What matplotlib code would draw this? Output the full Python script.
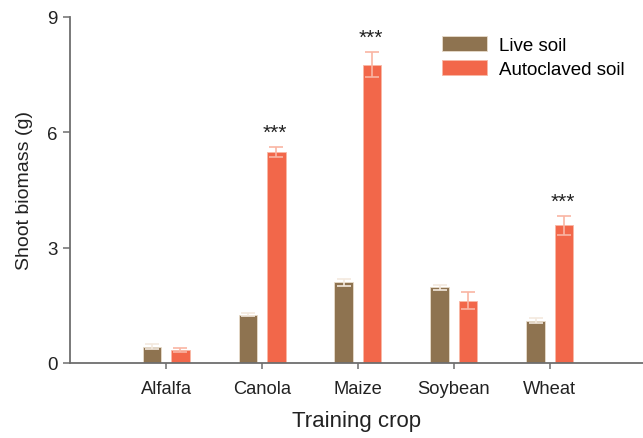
import matplotlib
matplotlib.use("Agg")
import matplotlib.pyplot as plt
import numpy as np

plt.rcParams['font.family'] = ['Liberation Sans', 'DejaVu Sans']

crops = ["Alfalfa", "Canola", "Maize", "Soybean", "Wheat"]
live_mean = [0.42, 1.26, 2.10, 1.97, 1.10]
live_err = [0.06, 0.05, 0.09, 0.06, 0.07]
auto_mean = [0.34, 5.48, 7.76, 1.62, 3.58]
auto_err = [0.06, 0.13, 0.33, 0.22, 0.25]
signif = ["", "***", "***", "", "***"]
yticks = [0, 3, 6, 9]

live_color = "#8E7350"
auto_color = "#F2674A"
spine_color = "#6E6E6E"

fig = plt.figure(figsize=(6.43, 4.39), dpi=100)
ax = fig.add_axes([0.109, 0.171, 0.891, 0.788])

x = np.arange(len(crops))
w = 0.19
off = 0.15

ax.bar(x - off, live_mean, w, color=live_color, edgecolor="#E8DCCB",
       linewidth=0.6, label="Live soil", zorder=2)
ax.bar(x + off, auto_mean, w, color=auto_color, edgecolor="#F8B8A6",
       linewidth=0.6, label="Autoclaved soil", zorder=2)
ax.errorbar(x - off, live_mean, yerr=live_err, fmt="none", ecolor="#F3E9DE",
            elinewidth=1.2, capsize=5, capthick=1.2, zorder=3)
ax.errorbar(x + off, auto_mean, yerr=auto_err, fmt="none", ecolor="#F9B5A3",
            elinewidth=1.2, capsize=5, capthick=1.2, zorder=3)

for xi, m, e, s in zip(x, auto_mean, auto_err, signif):
    if s:
        ax.text(xi + off - 0.02, m + e + 0.38, s, ha="center", va="center",
                fontsize=15, color="#222222")

ax.set_xlim(-1.0, 4.97)
ax.set_ylim(0, 9)
ax.set_yticks(yticks)
ax.set_xticks(x)
ax.set_xticklabels(crops)

for side in ("top", "right"):
    ax.spines[side].set_visible(False)
for side in ("left", "bottom"):
    ax.spines[side].set_color(spine_color)
    ax.spines[side].set_linewidth(1.3)

ax.tick_params(axis="y", direction="out", length=5, width=1.1, color=spine_color,
               labelsize=13.5, labelcolor="#222222", pad=4)
ax.tick_params(axis="x", direction="out", length=4, width=1.1, color=spine_color,
               labelsize=13.2, labelcolor="#222222", pad=8)

ax.set_ylabel("Shoot biomass (g)", fontsize=14, color="#222222", labelpad=10)
ax.set_xlabel("Training crop", fontsize=16, color="#222222", labelpad=10)

ax.legend(loc="upper left", bbox_to_anchor=(0.617, 1.0), frameon=False,
          fontsize=13.5, handlelength=2.4, handleheight=0.9, handletextpad=0.6,
          labelspacing=0.3, borderaxespad=0.6)

fig.savefig("out.png", dpi=100)
